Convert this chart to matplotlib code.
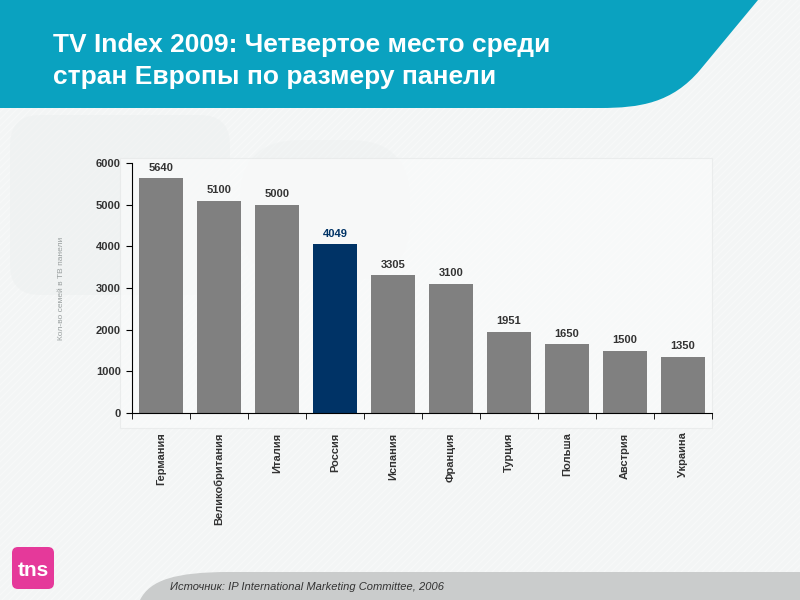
import numpy as np
import matplotlib.pyplot as plt
from matplotlib.path import Path
from matplotlib.patches import PathPatch, FancyBboxPatch, Rectangle

plt.rcParams['font.family'] = ['Liberation Sans', 'DejaVu Sans']

countries = ['Германия', 'Великобритания', 'Италия', 'Россия', 'Испания',
             'Франция', 'Турция', 'Польша', 'Австрия', 'Украина']
panel_size = [5640, 5100, 5000, 4049, 3305, 3100, 1951, 1650, 1500, 1350]
highlight = 'Россия'

title = 'TV Index 2009: Четвертое место среди\nстран Европы по размеру панели'
source = 'Источник: IP International Marketing Committee, 2006'
ylabel = 'Кол-во семей в ТВ панели'

fig = plt.figure(figsize=(8, 6), dpi=100)
fig.patch.set_facecolor('#f3f5f5')

# background decorations in pixel coordinates
bg = fig.add_axes([0, 0, 1, 1], zorder=-5)
bg.set_xlim(0, 800)
bg.set_ylim(600, 0)
bg.axis('off')

# faint diagonal stripes
for s in np.arange(-600, 800, 7):
    bg.plot([s, s + 600], [600, 0], color='white', lw=0.8, alpha=0.35, zorder=0)

# faint large shapes
bg.add_patch(FancyBboxPatch((10, 115), 220, 180, boxstyle='round,pad=0,rounding_size=30',
                            fc='#edf0f0', ec='none', alpha=0.5, zorder=0.5))
bg.add_patch(FancyBboxPatch((240, 140), 170, 140, boxstyle='round,pad=0,rounding_size=60',
                            fc='#eef1f1', ec='none', alpha=0.5, zorder=0.5))
bg.add_patch(Rectangle((120, 158), 592, 270, fc='#fafbfb', ec='#e6e8e8', lw=0.8,
                       alpha=0.7, zorder=0.6))

# teal header
verts = [(0, 0), (758, 0), (700, 70), (672, 103), (640, 108), (600, 108), (0, 108), (0, 0)]
codes = [Path.MOVETO, Path.LINETO, Path.LINETO, Path.CURVE4, Path.CURVE4, Path.CURVE4,
         Path.LINETO, Path.CLOSEPOLY]
bg.add_patch(PathPatch(Path(verts, codes), fc='#0aa2c0', ec='none', zorder=2))

# grey footer band
fverts = [(140, 600), (150, 580), (175, 572), (230, 572), (800, 572), (800, 600), (140, 600)]
fcodes = [Path.MOVETO, Path.CURVE4, Path.CURVE4, Path.CURVE4, Path.LINETO, Path.LINETO,
          Path.CLOSEPOLY]
bg.add_patch(PathPatch(Path(fverts, fcodes), fc='#cacccc', ec='none', zorder=2))

# tns logo
bg.add_patch(FancyBboxPatch((12, 547), 42, 42, boxstyle='round,pad=0,rounding_size=6',
                            fc='#e5399a', ec='none', zorder=2))
bg.text(33, 570, 'tns', color='white', fontsize=15, fontweight='bold',
        ha='center', va='center', zorder=3)

fig.text(53 / 800, 1 - 61 / 600, title, color='white', fontsize=19, fontweight='bold',
         ha='left', va='center', linespacing=1.38)
fig.text(170 / 800, 1 - 587 / 600, source, color='#333333', fontsize=8,
         style='italic', ha='left', va='center')

# chart
ax = fig.add_axes([132 / 800, 1 - 413 / 600, 580 / 800, 250 / 600])
ax.set_facecolor('none')
x = np.arange(len(countries))
colors = ['#003366' if c == highlight else '#808080' for c in countries]
ax.bar(x, panel_size, width=0.76, color=colors)
for xi, v, c in zip(x, panel_size, countries):
    ax.text(xi, v + 130, str(v), ha='center', va='bottom', fontsize=8,
            fontweight='bold', color='#003366' if c == highlight else '#333333')

ax.set_xlim(-0.5, len(countries) - 0.5)
ax.set_ylim(0, 6000)
ax.set_yticks(np.arange(0, 6001, 1000))
ax.set_xticks(x)
ax.set_xticklabels(countries, rotation=90, fontsize=8, fontweight='bold', color='#333333')
ax.set_xticks(np.arange(-0.5, len(countries), 1), minor=True)
ax.tick_params(axis='x', which='major', length=0, pad=14)
ax.tick_params(axis='x', which='minor', length=4, direction='out', color='black')
ax.tick_params(axis='y', labelsize=8, length=4, direction='out', pad=4, labelcolor='#333333')
for lab in ax.get_yticklabels():
    lab.set_fontweight('bold')
for sp in ['top', 'right']:
    ax.spines[sp].set_visible(False)
ax.set_ylabel(ylabel, fontsize=6, color='#9aa0a0', labelpad=22)

fig.savefig('out.png', dpi=100, facecolor=fig.get_facecolor())
